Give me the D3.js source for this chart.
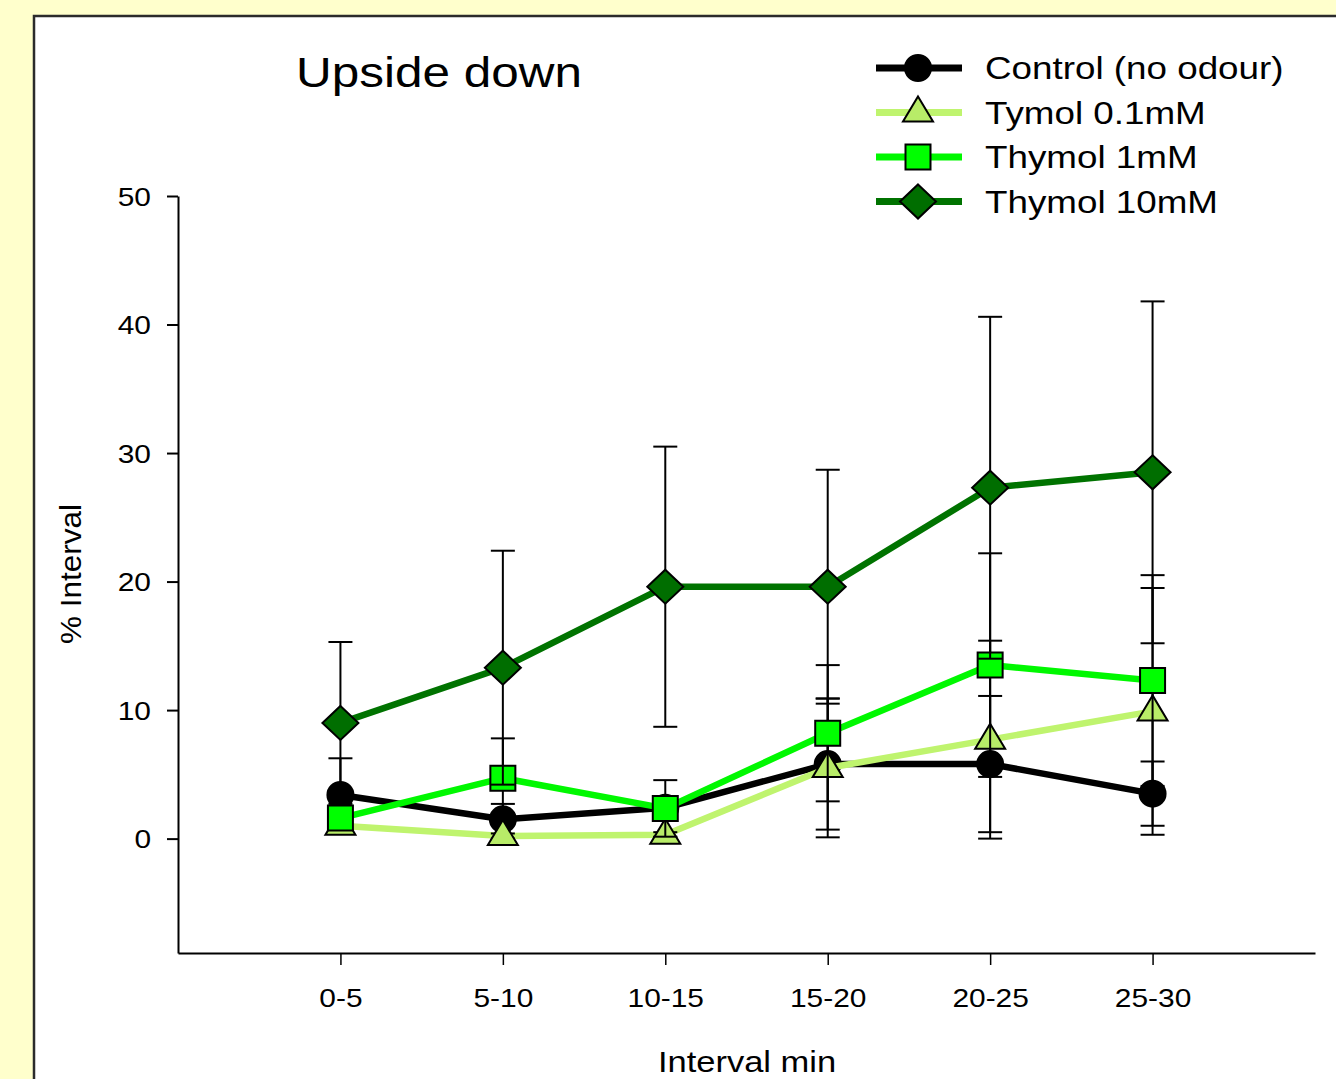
<!DOCTYPE html>
<html>
<head>
<meta charset="utf-8">
<script src="https://cdn.jsdelivr.net/npm/d3@7"></script>
<style>
  html, body { margin: 0; padding: 0; background: #ffffcc; }
  svg { display: block; }
  text { font-family: "Liberation Sans", Arial, sans-serif; fill: #000; }
</style>
</head>
<body>
<svg id="chart" width="1336" height="1079"></svg>
<script>
// ---------- data ----------
const categories = ["0-5", "5-10", "10-15", "15-20", "20-25", "25-30"];
const yTicks = [0, 10, 20, 30, 40, 50];

const controlMean  = [3.4, 1.5, 2.4, 5.8, 5.8, 3.5];
const controlErr   = [2.85, 1.2, 0.6, 5.1, 5.3, 2.5];
const tymol01Mean  = [1.0, 0.2, 0.3, 5.5, 7.7, 9.9];
const tymol01Err   = [0.5, 0.2, 0.2, 5.4, 7.7, 9.6];
const thymol1Mean  = [1.6, 4.7, 2.35, 8.2, 13.5, 12.3];
const thymol1Err   = [0.8, 3.1, 2.2, 5.3, 8.7, 8.2];
const thymol10Mean = [9.0, 13.3, 19.6, 19.6, 27.3, 28.5];
const thymol10Err  = [6.3, 9.1, 10.9, 9.1, 13.3, 13.3];

const seriesNames = ["Control (no odour)", "Tymol 0.1mM", "Thymol 1mM", "Thymol 10mM"];

// ---------- build ----------
const series = [
  { name: seriesNames[0], mean: controlMean,  err: controlErr,  line: "#000000", fill: "#000000", shape: "circle" },
  { name: seriesNames[1], mean: tymol01Mean,  err: tymol01Err,  line: "#bff46e", fill: "#b8ec68", shape: "triangle" },
  { name: seriesNames[2], mean: thymol1Mean,  err: thymol1Err,  line: "#00f800", fill: "#00ff00", shape: "square" },
  { name: seriesNames[3], mean: thymol10Mean, err: thymol10Err, line: "#007300", fill: "#006e00", shape: "diamond" }
];

const svg = d3.select("#chart");
const SX = 1.15; // horizontal text stretch

// panel
svg.append("rect").attr("x", 0).attr("y", 0).attr("width", 1336).attr("height", 1079).attr("fill", "#ffffcc");
svg.append("rect").attr("x", 34).attr("y", 16).attr("width", 1400).attr("height", 1200)
  .attr("fill", "#ffffff").attr("stroke", "#2b2b2b").attr("stroke-width", 2.5);

const x = d3.scaleLinear().domain([-1, 6]).range([178, 1315]);
const y = d3.scaleLinear().domain([-8.9, 50]).range([953, 196]);

// y axis
const yAxis = svg.append("g").attr("transform", "translate(178,0)")
  .call(d3.axisLeft(y).tickValues(yTicks).tickSize(11).tickSizeOuter(0).tickFormat(d3.format("d")));
yAxis.select(".domain").attr("stroke", "#000").attr("stroke-width", 2);
yAxis.selectAll(".tick line").attr("stroke", "#000").attr("stroke-width", 2);
yAxis.selectAll(".tick text")
  .attr("x", null).attr("dy", null)
  .attr("transform", "translate(-27,9) scale(" + SX + ",1)")
  .attr("text-anchor", "end")
  .style("font-size", "26px").style("font-family", "Liberation Sans, Arial, sans-serif");

// x axis
const xAxis = svg.append("g").attr("transform", "translate(0,953)")
  .call(d3.axisBottom(x).tickValues(d3.range(categories.length)).tickSize(12).tickSizeOuter(0)
    .tickFormat(i => categories[i]));
xAxis.select(".domain").attr("stroke", "#000").attr("stroke-width", 2);
xAxis.selectAll(".tick line").attr("stroke", "#000").attr("stroke-width", 1.5);
xAxis.selectAll(".tick text")
  .attr("y", null).attr("dy", null)
  .attr("transform", "translate(0,54) scale(" + SX + ",1)")
  .attr("text-anchor", "middle")
  .style("font-size", "26px").style("font-family", "Liberation Sans, Arial, sans-serif");

// titles
function stretchedText(px, py, str, size, anchor, rot) {
  const t = svg.append("text")
    .attr("transform", "translate(" + px + "," + py + ")" + (rot ? " rotate(" + rot + ")" : "") + " scale(" + SX + ",1)")
    .attr("text-anchor", anchor)
    .style("font-size", size + "px")
    .text(str);
  return t;
}
stretchedText(439, 87, "Upside down", 43, "middle");
stretchedText(747, 1072, "Interval min", 30, "middle");
svg.append("text")
  .attr("transform", "translate(81,574) rotate(-90) scale(1.05,1)")
  .attr("text-anchor", "middle")
  .style("font-size", "30px")
  .text("% Interval");

// marker paths
function markerPath(shape) {
  switch (shape) {
    case "circle":   return d3.symbol(d3.symbolCircle, Math.PI * 13 * 13)();
    case "square":   return "M-12.5,-12.5H12.5V12.5H-12.5Z";
    case "diamond":  return "M0,-17L18,0L0,17L-18,0Z";
    case "triangle": return "M0,-16L15,9L-15,9Z";
  }
}

const lineGen = d3.line().x((d, i) => x(i)).y(d => y(d));

series.forEach(s => {
  const g = svg.append("g");
  // line
  g.append("path").datum(s.mean).attr("d", lineGen)
    .attr("fill", "none").attr("stroke", s.line).attr("stroke-width", 6.5)
    .attr("stroke-linejoin", "round");
  // error bars
  const eb = g.selectAll(".eb").data(s.mean.map((m, i) => ({ i, m, e: s.err[i] }))).join("g");
  eb.append("line")
    .attr("x1", d => x(d.i)).attr("x2", d => x(d.i))
    .attr("y1", d => y(d.m + d.e)).attr("y2", d => y(d.m - d.e))
    .attr("stroke", "#000").attr("stroke-width", 2);
  [1, -1].forEach(sign => {
    eb.append("line")
      .attr("x1", d => x(d.i) - 12).attr("x2", d => x(d.i) + 12)
      .attr("y1", d => y(d.m + sign * d.e)).attr("y2", d => y(d.m + sign * d.e))
      .attr("stroke", "#000").attr("stroke-width", 2);
  });
  // markers
  g.selectAll(".mk").data(s.mean).join("path")
    .attr("d", markerPath(s.shape))
    .attr("transform", (d, i) => "translate(" + x(i) + "," + y(d) + ")")
    .attr("fill", s.fill).attr("stroke", "#000").attr("stroke-width", 2);
});

// legend
const legend = svg.append("g");
series.forEach((s, k) => {
  const ly = 68 + k * 44.5;
  legend.append("line").attr("x1", 876).attr("x2", 962).attr("y1", ly).attr("y2", ly)
    .attr("stroke", s.line).attr("stroke-width", 7);
  legend.append("path").attr("d", markerPath(s.shape))
    .attr("transform", "translate(918," + ly + ")")
    .attr("fill", s.fill).attr("stroke", "#000").attr("stroke-width", 2);
  legend.append("text")
    .attr("transform", "translate(985," + (ly + 11) + ") scale(" + SX + ",1)")
    .style("font-size", "32px")
    .text(s.name);
});
</script>
</body>
</html>
